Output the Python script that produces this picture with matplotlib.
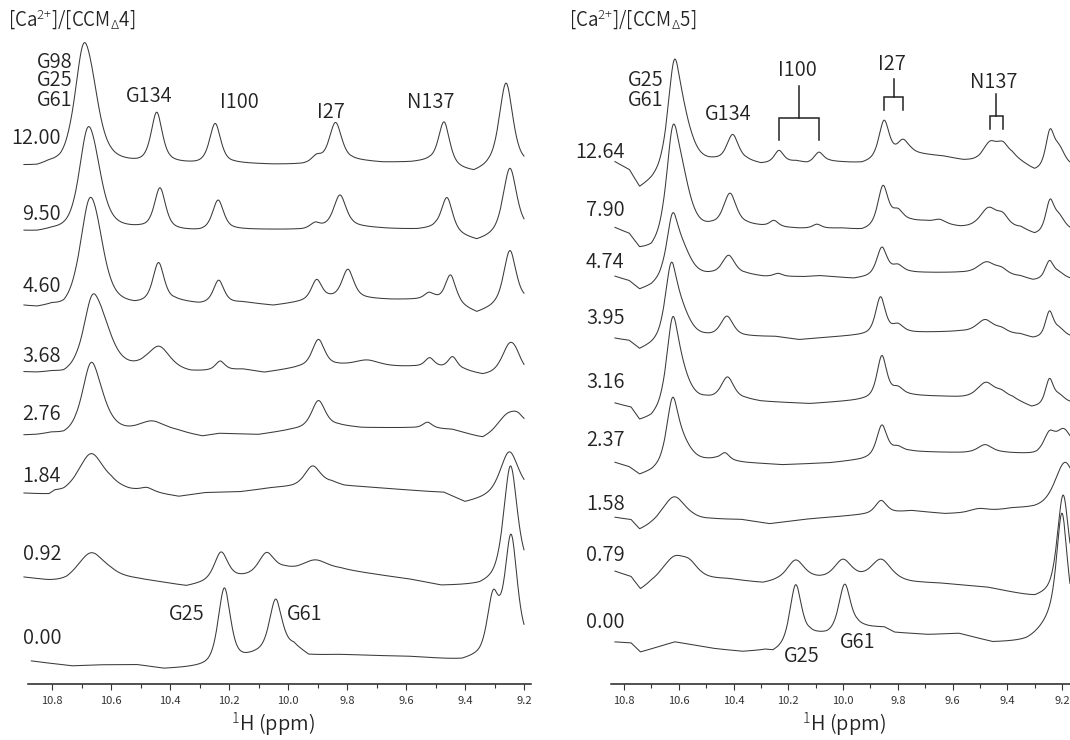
import numpy as np
import matplotlib
matplotlib.use("Agg")
import matplotlib.pyplot as plt

plt.rcParams['font.family'] = ['Noto Sans CJK JP', 'DejaVu Sans']
plt.rcParams['font.weight'] = 350
plt.rcParams['mathtext.fontset'] = 'custom'
plt.rcParams['mathtext.rm'] = 'Noto Sans CJK JP:light'
plt.rcParams['mathtext.it'] = 'Noto Sans CJK JP:light'
plt.rcParams['mathtext.bf'] = 'Noto Sans CJK JP'

# ---------------- data ----------------
tick_values = [10.8, 10.6, 10.4, 10.2, 10.0, 9.8, 9.6, 9.4, 9.2]
tick_labels = ["10.8", "10.6", "10.4", "10.2", "10.0", "9.8", "9.6", "9.4", "9.2"]

# Left panel: CCMΔ4 titration. Baseline (ppm, level) and peaks (ppm, height, half-width)
left_ratios = ["12.00", "9.50", "4.60", "3.68", "2.76", "1.84", "0.92", "0.00"]
left_ratio_y = [546, 470, 397, 328, 269, 208, 129.5, 46]

left_baselines = [
    [(10.895,517),(10.85,516),(10.81,518),(10.77,517),(10.74,519),(10.60,520),(10.51,519),(10.40,520),(10.31,519),(10.18,520),(10.05,519),(9.95,519),(9.88,521),(9.78,523),(9.68,521),(9.58,521),(9.52,522),(9.42,514),(9.37,510),(9.32,515),(9.20,518)],
    [(10.895,452),(10.85,451),(10.80,452),(10.76,451),(10.72,450),(10.60,453),(10.50,454),(10.40,453),(10.30,452),(10.18,454),(10.05,454),(9.95,454),(9.87,456),(9.78,457),(9.66,455),(9.56,454),(9.50,455),(9.42,448),(9.36,442),(9.31,446),(9.20,452)],
    [(10.895,377),(10.85,375),(10.80,376),(10.76,373),(10.72,376),(10.60,378),(10.52,377),(10.45,380),(10.38,382),(10.30,379),(10.15,381),(10.05,378),(9.97,381),(9.86,385),(9.75,385),(9.65,384),(9.57,384),(9.50,384),(9.42,378),(9.36,370),(9.30,376),(9.20,382)],
    [(10.895,311),(10.85,310),(10.80,310),(10.76,308),(10.72,311),(10.55,314),(10.48,315),(10.33,311),(10.22,313),(10.15,314),(10.08,311),(9.96,316),(9.83,318),(9.66,317),(9.57,317),(9.49,316),(9.40,313),(9.34,308),(9.28,309),(9.20,309)],
    [(10.895,248),(10.85,248),(10.80,249),(10.76,247),(10.72,249),(10.54,250),(10.37,251),(10.29,247),(10.23,250),(10.10,249),(9.98,254),(9.83,258),(9.75,256),(9.58,256),(9.49,255),(9.44,254),(9.34,245),(9.29,250),(9.20,254)],
    [(10.895,190),(10.85,189),(10.81,188),(10.79,191),(10.76,190),(10.70,193),(10.60,197),(10.54,193),(10.44,190),(10.37,187),(10.28,191),(10.16,192),(10.05,196),(9.98,197),(9.85,201),(9.81,198),(9.70,196),(9.52,192),(9.47,191),(9.40,181),(9.33,185),(9.20,190)],
    [(10.895,106),(10.85,104),(10.81,102),(10.75,100),(10.67,103),(10.60,106),(10.51,104),(10.43,101),(10.344,97),(10.23,103),(10.13,107),(10.01,114),(9.97,113),(9.82,114),(9.70,109),(9.58,104),(9.48,98),(9.35,98),(9.28,103),(9.20,110)],
    [(10.87,23),(10.79,20),(10.73,18),(10.63,19),(10.51,19),(10.42,15),(10.32,16),(10.22,17),(10.11,28),(10.04,33),(9.98,37),(9.93,28),(9.815,29),(9.70,28),(9.58,27),(9.41,23),(9.35,26),(9.28,35),(9.20,37)],
]

left_peaks = [
    [(10.695,95,0.028),(10.663,42,0.03),(10.445,50,0.018),(10.247,40,0.018),(9.903,6,0.015),(9.839,39,0.02),(9.471,43,0.018),(9.261,84,0.022)],
    [(10.681,82,0.028),(10.652,35,0.03),(10.434,41,0.018),(10.237,30,0.018),(9.908,5,0.015),(9.824,32,0.02),(9.461,34,0.018),(9.248,66,0.022)],
    [(10.675,86,0.03),(10.645,35,0.03),(10.439,39,0.018),(10.235,23,0.017),(9.903,20,0.017),(9.797,29,0.019),(9.522,6,0.015),(9.449,28,0.017),(9.248,54,0.02)],
    [(10.665,58,0.028),(10.625,33,0.035),(10.437,22,0.035),(10.23,9,0.015),(9.897,27,0.02),(9.732,6,0.04),(9.52,9,0.015),(9.442,12,0.015),(9.25,26,0.025),(9.228,10,0.02)],
    [(10.669,60,0.028),(10.635,18,0.035),(10.461,11,0.045),(9.897,27,0.022),(9.527,6,0.015),(9.26,14,0.03),(9.222,12,0.025)],
    [(10.668,36,0.04),(10.478,4,0.02),(9.917,19,0.025),(9.25,44,0.03)],
    [(10.668,28,0.045),(10.227,28,0.022),(10.073,20,0.025),(9.908,10,0.04),(9.246,112,0.022)],
    [(10.216,78,0.02),(10.042,51,0.02),(9.305,52,0.018),(9.244,110,0.02)],
]

# Right panel: CCMΔ5 titration
right_ratios = ["12.64", "7.90", "4.74", "3.95", "3.16", "2.37", "1.58", "0.79", "0.00"]
right_ratio_y = [532, 473.5, 421.5, 366, 301.6, 243.5, 180, 128.6, 61]

right_baselines = [
    [(10.833,521),(10.78,512),(10.743,494),(10.70,500),(10.66,508),(10.55,518),(10.47,521),(10.35,522),(10.30,519),(10.17,522),(10.13,520),(10.05,522),(9.93,520),(9.75,530),(9.63,527),(9.56,523),(9.50,522),(9.38,527),(9.30,512),(9.171,516)],
    [(10.833,455),(10.78,448),(10.743,433),(10.70,432),(10.66,440),(10.48,455),(10.35,458),(10.30,457),(10.16,455),(10.00,455),(9.93,453),(9.75,462),(9.70,462),(9.57,456),(9.50,455),(9.35,455),(9.30,448),(9.171,452)],
    [(10.833,407),(10.78,402),(10.743,393),(10.70,396),(10.66,402),(10.48,408),(10.35,409),(10.29,407),(10.14,407),(10.08,408),(9.96,405),(9.75,411),(9.63,411),(9.57,411),(9.50,410),(9.35,407),(9.306,403),(9.171,404)],
    [(10.833,345),(10.78,342),(10.743,333),(10.70,337),(10.66,342),(10.50,346),(10.35,347),(10.24,347),(10.16,344),(10.02,347),(9.96,348),(9.75,351),(9.57,352),(9.50,350),(9.35,349),(9.306,345),(9.171,346)],
    [(10.833,280),(10.774,275),(10.743,262),(10.70,264),(10.66,272),(10.50,283),(10.354,284),(10.30,282),(10.12,280),(9.96,283),(9.75,288),(9.63,287),(9.567,286),(9.50,285),(9.38,285),(9.311,276),(9.171,280)],
    [(10.833,221),(10.78,216),(10.743,208),(10.70,211),(10.66,216),(10.465,224),(10.354,221),(10.22,219),(10.046,221),(9.934,224),(9.75,232),(9.565,231),(9.50,231),(9.416,231),(9.293,229),(9.171,234)],
    [(10.833,166),(10.774,163),(10.743,153),(10.70,157),(10.66,160),(10.55,163),(10.465,164),(10.366,164),(10.268,160),(10.121,165),(9.934,169),(9.825,171),(9.749,173),(9.627,170),(9.50,171),(9.379,175),(9.30,175),(9.171,178)],
    [(10.833,112),(10.774,106),(10.74,93),(10.70,99),(10.66,102),(10.515,104),(10.416,104),(10.292,100),(10.243,102),(10.107,104),(9.953,104),(9.80,102),(9.749,101),(9.627,100),(9.467,96),(9.299,86),(9.171,92)],
    [(10.833,42),(10.774,41),(10.74,32),(10.70,35),(10.614,42),(10.465,35),(10.366,32),(10.281,33),(10.256,31),(10.17,40),(10.121,48),(10.058,48),(9.994,52),(9.947,57),(9.904,56),(9.848,56),(9.811,51),(9.688,49),(9.576,50),(9.453,41),(9.33,41),(9.25,45),(9.171,47)],
]

right_peaks = [
    [(10.617,94,0.022),(10.58,35,0.03),(10.403,26,0.02),(10.234,12,0.016),(10.088,10,0.016),(9.85,38,0.018),(9.781,14,0.02),(9.463,17,0.025),(9.416,12,0.02),(9.244,35,0.015),(9.21,18,0.02)],
    [(10.622,92,0.022),(10.585,45,0.03),(10.413,32,0.022),(10.252,6,0.015),(10.095,4,0.015),(9.854,40,0.018),(9.80,12,0.02),(9.646,4,0.02),(9.468,20,0.03),(9.416,10,0.02),(9.244,30,0.015),(9.21,14,0.02)],
    [(10.623,55,0.02),(10.585,25,0.03),(10.418,19,0.022),(10.237,3,0.015),(9.858,28,0.018),(9.80,8,0.02),(9.475,12,0.03),(9.42,5,0.02),(9.246,18,0.015),(9.21,6,0.02)],
    [(10.628,66,0.02),(10.59,25,0.03),(10.424,20,0.022),(9.863,37,0.017),(9.80,8,0.02),(9.481,14,0.03),(9.42,4,0.02),(9.246,25,0.014),(9.21,8,0.02)],
    [(10.623,76,0.02),(10.59,28,0.03),(10.422,22,0.022),(9.858,42,0.017),(9.80,8,0.02),(9.478,16,0.03),(9.42,5,0.02),(9.246,25,0.014),(9.21,8,0.02)],
    [(10.623,60,0.02),(10.585,18,0.03),(10.431,7,0.015),(9.858,31,0.018),(9.80,6,0.02),(9.481,8,0.025),(9.246,18,0.02),(9.194,20,0.025)],
    [(10.617,26,0.04),(9.861,13,0.02),(9.503,4,0.03),(9.189,44,0.035)],
    [(10.617,22,0.04),(10.56,12,0.03),(10.173,20,0.03),(10.0,19,0.03),(9.861,21,0.035),(9.196,98,0.02)],
    [(10.173,59,0.02),(9.994,47,0.02),(9.21,25,0.05),(9.20,100,0.018)],
]

# ---------------- drawing ----------------
W, H = 1070, 740
LINE_C = '#3a3a3a'
TEXT_C = '#222222'
WIDTH_SCALE = 1.25   # line-shape rendering: pseudo-Voigt of the read half-widths
LOR_FRAC = 0.6

def spectrum(base, peaks, n=1600):
    b = np.array(base, dtype=float)
    order = np.argsort(b[:, 0])
    x = np.linspace(b[:, 0].min(), b[:, 0].max(), n)
    y = np.interp(x, b[order, 0], b[order, 1])
    for p, h, w in peaks:
        u = (x - p) / (w * WIDTH_SCALE)
        shape = LOR_FRAC / (1.0 + u ** 2) + (1 - LOR_FRAC) * np.exp(-np.log(2) * u ** 2)
        y = y + h * shape
    return x, y

fig = plt.figure(figsize=(W / 100, H / 100), dpi=100)

def make_axes(px_left, px_right, xlim, spine_bounds):
    ax = fig.add_axes([px_left / W, (H - 684) / H, (px_right - px_left) / W, 684 / H])
    ax.set_xlim(*xlim)
    ax.set_ylim(0, 684)
    for s in ['top', 'right', 'left']:
        ax.spines[s].set_visible(False)
    ax.spines['bottom'].set_bounds(*spine_bounds)
    ax.spines['bottom'].set_linewidth(1.1)
    ax.spines['bottom'].set_color('#222222')
    ax.set_yticks([])
    ax.set_xticks(tick_values)
    ax.set_xticklabels(tick_labels, fontweight='normal')
    ax.set_xticks(np.round(np.arange(10.7, 9.25, -0.2), 1), minor=True)
    ax.tick_params(axis='x', which='major', direction='out', length=4, width=0.8,
                   color='#333333', labelsize=8, labelcolor='#333333', pad=5)
    ax.tick_params(axis='x', which='minor', direction='out', length=3, width=0.8,
                   color='#333333')
    ax.patch.set_alpha(0)
    return ax

axL = make_axes(20, 531, (10.9085, 9.1763), (10.881, 9.1763))
axR = make_axes(611, 1070, (10.8475, 9.1708), (10.8475, 9.1708))

for base, pk in zip(left_baselines, left_peaks):
    x, y = spectrum(base, pk)
    axL.plot(x, y, color=LINE_C, lw=0.75, clip_on=False)
for base, pk in zip(right_baselines, right_peaks):
    x, y = spectrum(base, pk)
    axR.plot(x, y, color=LINE_C, lw=0.75, clip_on=False)

FS = 14.5
TK = dict(fontsize=FS, color=TEXT_C, fontweight=350)
for lab, yy in zip(left_ratios, left_ratio_y):
    axL.text(10.769, yy, lab, ha='right', va='center', **TK)
for lab, yy in zip(right_ratios, right_ratio_y):
    axR.text(10.798, yy, lab, ha='right', va='center', **TK)

# Left panel residue labels
for lab, yy in zip(["G98", "G25", "G61"], [622, 603, 583]):
    axL.text(10.729, yy, lab, ha='right', va='center', **TK)
axL.text(10.471, 587, "G134", ha='center', va='center', **TK)
axL.text(10.166, 582, "I100", ha='center', va='center', **TK)
axL.text(9.853, 572, "I27", ha='center', va='center', **TK)
axL.text(9.515, 582, "N137", ha='center', va='center', **TK)
axL.text(10.344, 70, "G25", ha='center', va='center', **TK)
axL.text(9.942, 70, "G61", ha='center', va='center', **TK)

# Right panel residue labels
for lab, yy in zip(["G25", "G61"], [603, 583]):
    axR.text(10.656, yy, lab, ha='right', va='center', **TK)
axR.text(10.418, 569, "G134", ha='center', va='center', **TK)
axR.text(10.166, 613, "I100", ha='center', va='center', **TK)
axR.text(9.822, 620, "I27", ha='center', va='center', **TK)
axR.text(9.449, 601, "N137", ha='center', va='center', **TK)
axR.text(10.152, 28, "G25", ha='center', va='center', **TK)
axR.text(9.947, 42, "G61", ha='center', va='center', **TK)

def bracket(ax, x1, x2, y_leg, y_bar, y_top):
    xm = 0.5 * (x1 + x2)
    ax.plot([x1, x1, x2, x2], [y_leg, y_bar, y_bar, y_leg], color='#222222', lw=1.1,
            solid_joinstyle='miter', clip_on=False)
    ax.plot([xm, xm], [y_bar, y_top], color='#222222', lw=1.1, clip_on=False)

top_r = right_peaks[0]
bracket(axR, top_r[3][0], top_r[4][0], 544, 566.5, 598.5)   # I100 pair
bracket(axR, top_r[5][0], top_r[6][0], 574, 587, 605)       # I27 pair
bracket(axR, top_r[7][0], top_r[8][0], 555, 568.5, 590)     # N137 pair

# Titles and axis labels
fig.text(8 / W, 1 - 20 / H, r'[Ca$^{2{+}}$]/[CCM$_{\Delta}$4]', ha='left', va='center',
         fontsize=13.5, color=TEXT_C, fontweight=350)
fig.text(569 / W, 1 - 20 / H, r'[Ca$^{2{+}}$]/[CCM$_{\Delta}$5]', ha='left', va='center',
         fontsize=13.5, color=TEXT_C, fontweight=350)
fig.text(273 / W, 1 - 725 / H, r'$^{1}$H (ppm)', ha='center', va='center', fontsize=14.5,
         color=TEXT_C, fontweight=350)
fig.text(844 / W, 1 - 725 / H, r'$^{1}$H (ppm)', ha='center', va='center', fontsize=14.5,
         color=TEXT_C, fontweight=350)

fig.savefig('out.png', dpi=100, facecolor='white')
